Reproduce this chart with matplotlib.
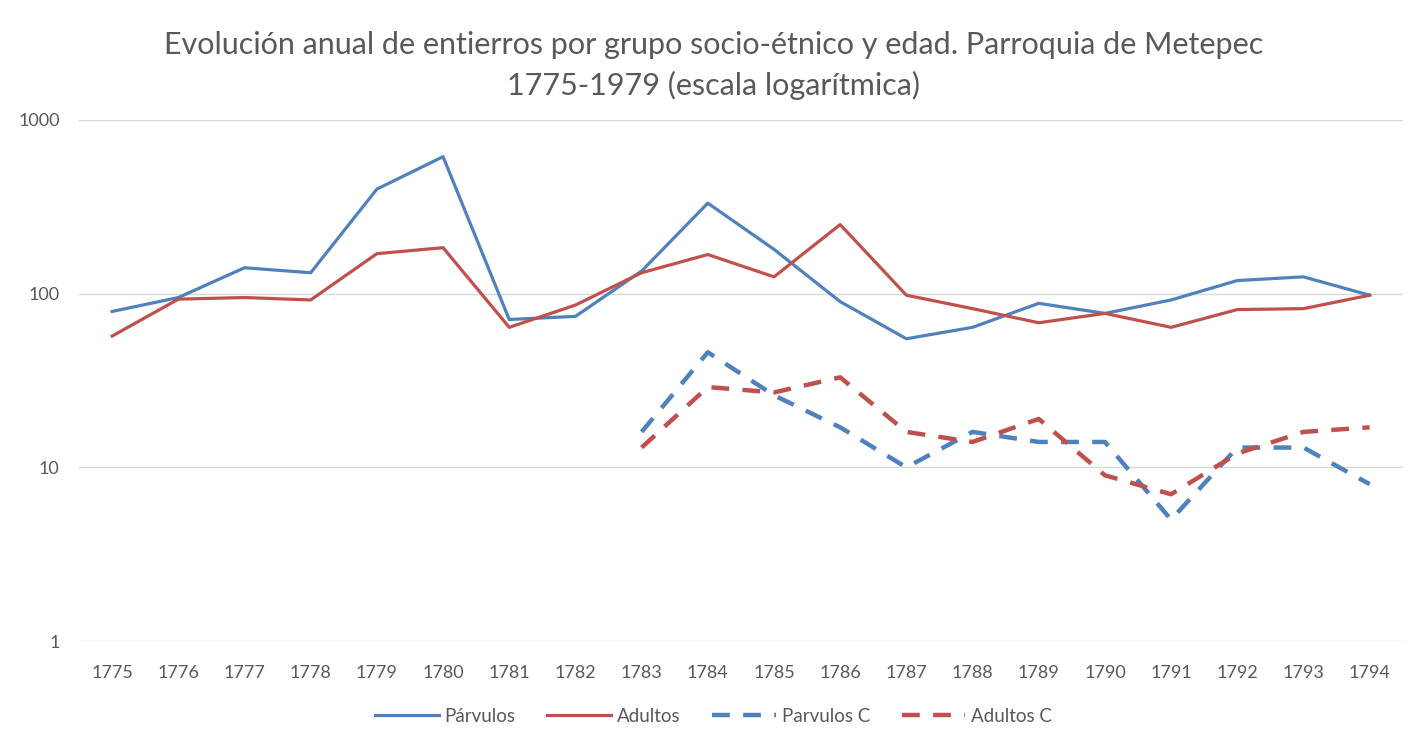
import numpy as np
import matplotlib
matplotlib.use("Agg")
import matplotlib.pyplot as plt

years = [str(y) for y in range(1775, 1795)]

parvulos = [79, 95, 141, 132, 400, 615, 71, 74, 135, 332, 180, 90, 55, 64, 88, 77, 92, 119, 125, 98]
adultos = [57, 93, 95, 92, 170, 184, 64, 86, 132, 168, 125, 250, 98, 82, 68, 77, 64, 81, 82, 98]
# the "C" series only start in 1783
parvulos_c = [np.nan] * 8 + [16, 46, 26, 17, 10, 16, 14, 14, 5, 13, 13, 8]
adultos_c = [np.nan] * 8 + [13, 29, 27, 33, 16, 14, 19, 9, 7, 12, 16, 17]

blue = '#4F81BD'
red = '#C0504D'
gray = '#595959'

plt.rcParams['font.family'] = ['Lato', 'DejaVu Sans']

fig = plt.figure(figsize=(14.27, 7.5), dpi=100)
ax = fig.add_axes([0.0554, 0.1453, 0.983 - 0.0554, 0.84 - 0.1453])

x = np.arange(len(years))
ax.plot(x, parvulos, color=blue, lw=2.3, label='Párvulos')
ax.plot(x, adultos, color=red, lw=2.3, label='Adultos')
ax.plot(x, parvulos_c, color=blue, lw=3.2, ls=(0, (4, 3)), label='Parvulos C')
ax.plot(x, adultos_c, color=red, lw=3.2, ls=(0, (4, 3)), label='Adultos C')

ax.set_yscale('log')
ax.set_ylim(1, 1000)
ax.set_xlim(-0.5, len(years) - 0.5)
ax.set_yticks([1, 10, 100, 1000])
ax.set_yticklabels(['1', '10', '100', '1000'])
ax.yaxis.set_minor_locator(matplotlib.ticker.NullLocator())
ax.set_xticks(x)
ax.set_xticklabels(years)
ax.tick_params(axis='both', length=0, labelsize=13, colors=gray)
ax.tick_params(axis='x', pad=17)
ax.tick_params(axis='y', pad=14)
ax.grid(axis='y', color='#D9D9D9', lw=1)
for s in ax.spines.values():
    s.set_visible(False)
ax.set_axisbelow(True)

fig.text(0.5, 0.94, 'Evolución anual de entierros por grupo socio-étnico y edad. Parroquia de Metepec',
         ha='center', va='center', fontsize=22, color=gray)
fig.text(0.5, 0.886, '1775-1979 (escala logarítmica)',
         ha='center', va='center', fontsize=22, color=gray)

fig.legend(loc='center', bbox_to_anchor=(0.5, 0.045), ncol=4, frameon=False,
           fontsize=13.5, labelcolor=gray, handlelength=3.4, columnspacing=1.7, handletextpad=0.3)

fig.savefig('out.png', dpi=100, facecolor='white')
